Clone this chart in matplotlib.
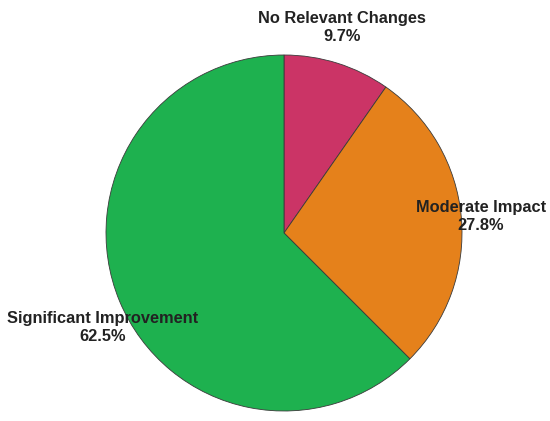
import numpy as np
from matplotlib import pyplot as plt

# data
labels = ['No Relevant Changes', 'Moderate Impact', 'Significant Improvement']
shares = [9.7, 27.8, 62.5]
colors = ['#CB3466', '#E5811B', '#1EB14F']

# label placement (radius factor, angle nudge in degrees)
label_r = [1.20, 1.11, 1.15]
label_shift = [1.6, -0.3, 5.0]

plt.rcParams['font.family'] = ['Liberation Sans', 'DejaVu Sans']

fig = plt.figure(figsize=(5.5, 4.21), dpi=100)
ax = fig.add_axes([106 / 550, 10 / 421, 356 / 550, 356 / 421])

wedges, _ = ax.pie(shares, colors=colors, startangle=90, counterclock=False,
                   wedgeprops=dict(edgecolor='#3a3a3a', linewidth=0.6))

for w, lab, pct, r, sh in zip(wedges, labels, shares, label_r, label_shift):
    ang = np.deg2rad((w.theta1 + w.theta2) / 2 + sh)
    ax.text(r * np.cos(ang), r * np.sin(ang), f'{lab}\n{pct}%',
            ha='center', va='center', fontsize=11.8, fontweight='bold',
            color='#222222', linespacing=1.3)

ax.set_xlim(-1, 1)
ax.set_ylim(-1, 1)
ax.set_aspect('equal')
ax.axis('off')

fig.savefig('out.png', dpi=100)
